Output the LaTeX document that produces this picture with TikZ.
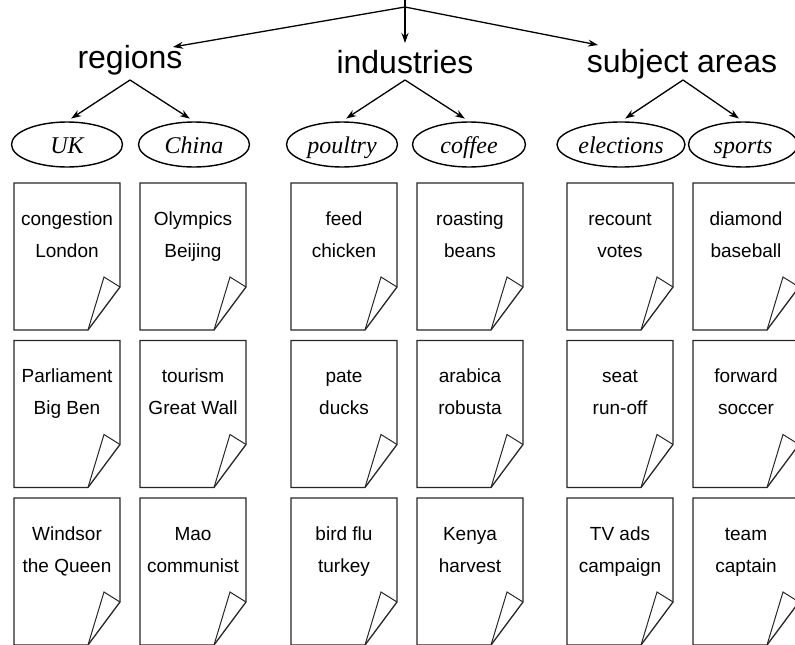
\documentclass[tikz,border=0pt]{standalone}
\usepackage{fontspec}
\setmainfont{Liberation Sans}
\newfontfamily\topicfont{Liberation Serif}
\usetikzlibrary{arrows.meta,shapes.geometric}

\tikzset{
  heading/.style={font=\fontsize{32}{38}\selectfont, anchor=base, inner sep=0pt},
  topic/.style={ellipse, draw, line width=1.4pt, minimum width=111pt, minimum height=45pt,
                inner sep=0pt, text height=21pt, text depth=4pt,
                font=\topicfont\itshape\fontsize{24}{28}\selectfont},
  link/.style={line width=1.3pt, -{Stealth[length=10pt,width=7pt]}},
  pageline/.style={line width=1.3pt, draw=black!85, line join=miter},
  pagetext/.style={font=\fontsize{19}{23}\selectfont, anchor=base, inner sep=0pt},
}

% A document sheet with a turned-up lower right corner.
% #1 name, #2 left, #3 top, #4 first line, #5 second line
\newcommand\docsheet[5]{%
  \begin{scope}[shift={(#2,#3)}]
    \coordinate (#1) at (0,0);
    \draw[pageline] (0,0) -- (106,0) -- (106,104) -- (74,147) -- (0,147) -- cycle;
    \draw[pageline, line width=1pt] (106,104) -- (90,94) -- (74,147);
    \node[pagetext] (#1-a) at (53,42) {#4};
    \node[pagetext] (#1-b) at (53,74) {#5};
  \end{scope}}

\begin{document}
\begin{tikzpicture}[x=1pt, y=-1pt]
  \useasboundingbox (0,0) rectangle (795,645);

  % root of the hierarchy
  \coordinate (stem) at (405,0);
  \coordinate (root) at (405,7);
  \draw[line width=1.3pt] (stem) -- (root);

  % facet headings
  \node[heading] (regions) at (130,68) {regions};
  \node[heading] (industries) at (405,73) {industries};
  \node[heading] (subjects) at (682,72) {subject areas};

  \coordinate (regions-in) at (173,47);
  \coordinate (industries-in) at (405,43);
  \coordinate (subjects-in) at (598,45);
  \draw[link] (root) -- (regions-in);
  \draw[link] (root) -- (industries-in);
  \draw[link] (root) -- (subjects-in);

  % topic ellipses
  \node[topic] (uk) at (67,144.5) {UK};
  \node[topic] (china) at (194,144.5) {China};
  \node[topic] (poultry) at (342,144.5) {poultry};
  \node[topic, minimum width=113pt] (coffee) at (469,144.5) {coffee};
  \node[topic, minimum width=128pt] (elections) at (621,144.5) {elections};
  \node[topic, minimum width=109pt] (sports) at (743,144.5) {sports};

  \coordinate (regions-out) at (130,80);
  \coordinate (industries-out) at (405,80);
  \coordinate (subjects-out) at (683,80);
  \draw[link, shorten >=5pt] (regions-out) -- (uk.north);
  \draw[link, shorten >=5pt] (regions-out) -- (china.north);
  \draw[link, shorten >=5pt] (industries-out) -- (poultry.north);
  \draw[link, shorten >=5pt] (industries-out) -- (coffee.north);
  \draw[link, shorten >=5pt] (subjects-out) -- (elections.north);
  \draw[link, shorten >=5pt] (subjects-out) -- (sports.north);

  % documents, row 1
  \docsheet{uk1}{14}{183}{congestion}{London}
  \docsheet{cn1}{140}{183}{Olympics}{Beijing}
  \docsheet{po1}{291}{183}{feed}{chicken}
  \docsheet{co1}{417}{183}{roasting}{beans}
  \docsheet{el1}{567}{183}{recount}{votes}
  \docsheet{sp1}{693}{183}{diamond}{baseball}

  % documents, row 2
  \docsheet{uk2}{14}{340.5}{Parliament}{Big Ben}
  \docsheet{cn2}{140}{340.5}{tourism}{Great Wall}
  \docsheet{po2}{291}{340.5}{pate}{ducks}
  \docsheet{co2}{417}{340.5}{arabica}{robusta}
  \docsheet{el2}{567}{340.5}{seat}{run-off}
  \docsheet{sp2}{693}{340.5}{forward}{soccer}

  % documents, row 3
  \docsheet{uk3}{14}{498}{Windsor}{the Queen}
  \docsheet{cn3}{140}{498}{Mao}{communist}
  \docsheet{po3}{291}{498}{bird flu}{turkey}
  \docsheet{co3}{417}{498}{Kenya}{harvest}
  \docsheet{el3}{567}{498}{TV ads}{campaign}
  \docsheet{sp3}{693}{498}{team}{captain}
\end{tikzpicture}
\end{document}
